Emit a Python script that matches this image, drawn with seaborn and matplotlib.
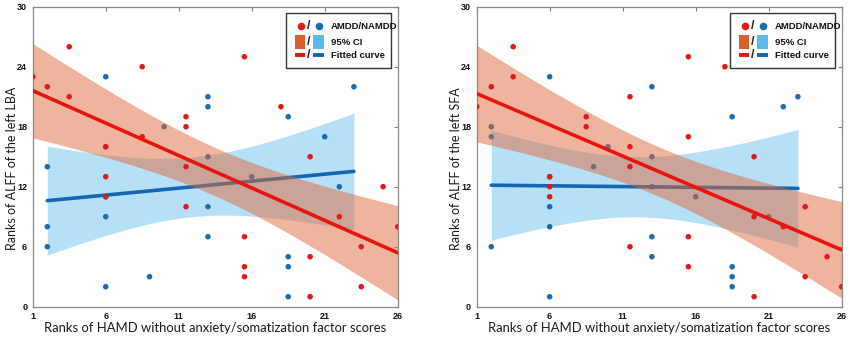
import numpy as np
import pandas as pd
import matplotlib
matplotlib.use("Agg")
import matplotlib.pyplot as plt
from matplotlib.patches import Rectangle
import seaborn as sns

# ---- rank data -------------------------------------------------------------
# HAMD (without anxiety/somatization factor) ranks, shared by both panels
amdd_hamd = [1, 2, 3.5, 3.5, 6, 6, 6, 8.5, 8.5, 11.5, 11.5, 11.5, 11.5,
             15.5, 15.5, 15.5, 15.5, 18, 20, 20, 20, 22, 23.5, 23.5, 25, 26]
namdd_hamd = [2, 2, 2, 6, 6, 6, 6, 6, 9, 10, 13, 13, 13, 13, 13, 16,
              18.5, 18.5, 18.5, 18.5, 21, 22, 23]

# ALFF ranks, left LBA
amdd_lba = [23, 22, 26, 21, 16, 13, 11, 24, 17, 19, 18, 14, 10,
            25, 7, 4, 3, 20, 15, 5, 1, 9, 6, 2, 12, 8]
namdd_lba = [14, 8, 6, 23, 16, 11, 9, 2, 3, 18, 21, 20, 15, 10, 7, 13,
             19, 5, 4, 1, 17, 12, 22]

# ALFF ranks, left SFA
amdd_sfa = [20, 22, 26, 23, 13, 12, 11, 19, 18, 21, 16, 14, 6,
            25, 17, 7, 4, 24, 15, 9, 1, 8, 10, 3, 5, 2]
namdd_sfa = [18, 17, 6, 23, 13, 10, 8, 1, 14, 16, 22, 15, 12, 7, 5, 11,
             19, 4, 3, 2, 9, 20, 21]

x_ticks = [1, 6, 11, 16, 21, 26]
y_ticks = [0, 6, 12, 18, 24, 30]
x_label = "Ranks of HAMD without anxiety/somatization factor scores"
y_labels = ["Ranks of ALFF of the left LBA", "Ranks of ALFF of the left SFA"]
key_labels = ["AMDD/NAMDD", "95% CI", "Fitted curve"]

# two-sided 95% Student t quantiles for n-2 degrees of freedom
T975 = {21: 2.0796, 24: 2.0639}

RED_PT, BLUE_PT = "#e0191b", "#1c6bb0"
RED_LN, BLUE_LN = "#e8150f", "#1565b0"
RED_CI, BLUE_CI = "#df6a3c", "#5cbbea"
RED_KEY, BLUE_KEY = "#d9602a", "#5cbbea"

sns.set_style("white")
plt.rcParams["font.family"] = ["Liberation Sans", "DejaVu Sans"]


def linear_fit(x, y):
    x = np.asarray(x, float)
    y = np.asarray(y, float)
    n = len(x)
    b, a = np.polyfit(x, y, 1)
    resid = y - (a + b * x)
    s = np.sqrt(np.sum(resid ** 2) / (n - 2))
    grid = np.linspace(x.min(), x.max(), 200)
    pred = a + b * grid
    se = s * np.sqrt(1.0 / n + (grid - x.mean()) ** 2 / np.sum((x - x.mean()) ** 2))
    t = T975[n - 2]
    return grid, pred, pred - t * se, pred + t * se


def draw_group(ax, x, y, pt_col, ln_col, ci_col, ci_alpha, z):
    grid, pred, lo, hi = linear_fit(x, y)
    ax.fill_between(grid, lo, hi, color=ci_col, alpha=ci_alpha, lw=0, zorder=z)
    sns.scatterplot(x=x, y=y, ax=ax, color=pt_col, s=16, edgecolor="none",
                    zorder=z + 1, legend=False)
    sns.lineplot(x=grid, y=pred, ax=ax, color=ln_col, lw=2.6, zorder=z + 2,
                 legend=False)


def draw_key(ax):
    tr = ax.transAxes
    ax.add_patch(Rectangle((0.694, 0.796), 0.288, 0.183, transform=tr,
                           facecolor="white", edgecolor="#333333", lw=1.0,
                           zorder=20))
    rows = [0.935, 0.882, 0.838]
    kw = dict(transform=tr, zorder=21, clip_on=False)
    # markers
    ax.plot([0.734], [rows[0]], "o", color=RED_PT, ms=5.5, mec="none", **kw)
    ax.plot([0.784], [rows[0]], "o", color=BLUE_PT, ms=5.5, mec="none", **kw)
    # patches
    ax.add_patch(Rectangle((0.719, rows[1] - 0.024), 0.028, 0.048,
                           facecolor=RED_KEY, edgecolor="none", **kw))
    ax.add_patch(Rectangle((0.768, rows[1] - 0.024), 0.030, 0.048,
                           facecolor=BLUE_KEY, edgecolor="none", **kw))
    # lines
    ax.plot([0.719, 0.747], [rows[2], rows[2]], color=RED_LN, lw=2.8,
            solid_capstyle="butt", **kw)
    ax.plot([0.768, 0.798], [rows[2], rows[2]], color=BLUE_LN, lw=2.8,
            solid_capstyle="butt", **kw)
    for r, lab in zip(rows, key_labels):
        ax.text(0.757, r, "/", ha="center", va="center", fontsize=9,
                fontweight="bold", color="#222222", **kw)
        ax.text(0.816, r, lab, ha="left", va="center", fontsize=6.8,
                fontweight="bold", color="#111111", **kw)


fig = plt.figure(figsize=(8.5, 3.44), dpi=100)
ax1 = fig.add_axes([0.0385, 0.1084, 0.4294, 0.872])
ax2 = fig.add_axes([0.5608, 0.1084, 0.4294, 0.872])

panels = [(ax1, amdd_lba, namdd_lba, y_labels[0]),
          (ax2, amdd_sfa, namdd_sfa, y_labels[1])]

for ax, amdd_y, namdd_y, ylab in panels:
    draw_group(ax, namdd_hamd, namdd_y, BLUE_PT, BLUE_LN, BLUE_CI, 0.45, 1)
    draw_group(ax, amdd_hamd, amdd_y, RED_PT, RED_LN, RED_CI, 0.5, 5)
    ax.set_xlim(1, 26)
    ax.set_ylim(0, 30)
    ax.set_xticks(x_ticks)
    ax.set_yticks(y_ticks)
    ax.tick_params(direction="in", length=3, width=0.8, color="#808080",
                   top=True, right=True, labelsize=6.5, pad=4,
                   labelcolor="#111111")
    for lab in ax.get_xticklabels() + ax.get_yticklabels():
        lab.set_fontweight("bold")
    for sp in ax.spines.values():
        sp.set_visible(True)
        sp.set_color("#8a8a8a")
        sp.set_linewidth(0.9)
    ax.set_xlabel(x_label, fontsize=9.4, family=["Lato", "DejaVu Sans"],
                  color="#1a1a1a")
    ax.set_ylabel(ylab, fontsize=9.0, family=["Lato", "DejaVu Sans"],
                  color="#1a1a1a")
    ax.xaxis.set_label_coords(0.5, -0.052)
    ax.yaxis.set_label_coords(-0.058, 0.46)
    ax.xaxis.label.set_va("top")
    ax.yaxis.label.set_va("center")
    draw_key(ax)

fig.savefig("out.png", dpi=100)
